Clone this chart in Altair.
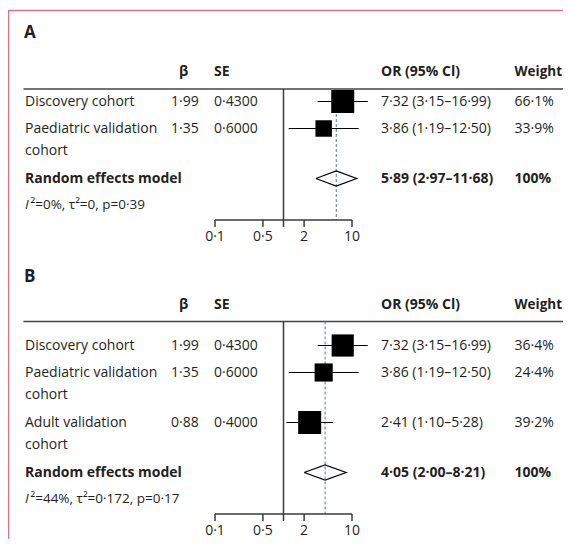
import altair as alt
import pandas as pd
import numpy as np

# ---------------- data ----------------
panel_names = ["A", "B"]

labels_A = [["Discovery cohort"], ["Paediatric validation", "cohort"]]
beta_A = [1.99, 1.35]
se_A = [0.4300, 0.6000]
or_A = [7.32, 3.86]
lo_A = [3.15, 1.19]
hi_A = [16.99, 12.50]
weight_A = [66.1, 33.9]
re_A = [5.89, 2.97, 11.68]
het_A = "²=0%, τ²=0, p=0·39"

labels_B = [["Discovery cohort"], ["Paediatric validation", "cohort"], ["Adult validation", "cohort"]]
beta_B = [1.99, 1.35, 0.88]
se_B = [0.4300, 0.6000, 0.4000]
or_B = [7.32, 3.86, 2.41]
lo_B = [3.15, 1.19, 1.10]
hi_B = [16.99, 12.50, 5.28]
weight_B = [36.4, 24.4, 39.2]
re_B = [4.05, 2.00, 8.21]
het_B = "²=44%, τ²=0·172, p=0·17"

tick_values = [0.1, 0.5, 2, 10]
tick_labels = ["0·1", "0·5", "2", "10"]
headers = ["β", "SE", "OR (95% Cl)", "Weight"]

# ---------------- layout ----------------
W, H = 555, 531
X_ONE = 275.5          # chart-x of OR = 1
PX_DEC = 68.5          # pixels per decade
xdom = [10 ** (-X_ONE / PX_DEC), 10 ** ((W - X_ONE) / PX_DEC)]
xscale = alt.Scale(type="log", domain=xdom, range=[0, W], nice=False, clamp=False)
yscale = alt.Scale(domain=[0, H], range=[0, H], nice=False, zero=False)

layout = {
    "A": dict(title=24.5, header=64, rule=81, first=93.5),
    "B": dict(title=268.5, header=297, rule=313.5, first=337.5),
}
COLX = dict(label=17, beta=163, se=206, orv=373, wt=506.5)
HEADX = [171, 206, 373, 506.5]
LINE = 23
ROWGAP = 4
FONT = "Open Sans"
TXT = "#231f20"


def dot(s):
    return s.replace(".", "·")


text_rows, study_rows, re_rows, het_rows, panel_rows, diamond_rows, tick_rows = [], [], [], [], [], [], []
for p, labels, beta, se, orv, lo, hi, wt, re, het in [
    ("A", labels_A, beta_A, se_A, or_A, lo_A, hi_A, weight_A, re_A, het_A),
    ("B", labels_B, beta_B, se_B, or_B, lo_B, hi_B, weight_B, re_B, het_B),
]:
    L = layout[p]
    y = L["first"]
    for i, lines in enumerate(labels):
        for k, ln in enumerate(lines):
            text_rows.append(dict(panel=p, y=y + k * (LINE - 1), label=ln))
        study_rows.append(dict(panel=p, y=y, beta=dot(f"{beta[i]:.2f}"), se=dot(f"{se[i]:.4f}"),
                               orv=orv[i], lo=lo[i], hi=hi[i], wrel=wt[i] / max(wt),
                               ortxt=dot(f"{orv[i]:.2f} ({lo[i]:.2f}–{hi[i]:.2f})"),
                               wtxt=dot(f"{wt[i]:.1f}%")))
        y = y + len(lines) * LINE + ROWGAP
    re_y = y
    het_y = re_y + 26.5
    axis_y = het_y + 15
    re_rows.append(dict(panel=p, y=re_y, est=re[0], lo=re[1], hi=re[2],
                        ortxt=dot(f"{re[0]:.2f} ({re[1]:.2f}–{re[2]:.2f})"), wtxt="100%"))
    het_rows.append(dict(panel=p, y=het_y, het=het))
    panel_rows.append(dict(panel=p, title_y=L["title"], header_y=L["header"], rule_y=L["rule"],
                           axis_y=axis_y, tick_end=axis_y + 7,
                           est=re[0], amin=min(tick_values), amax=max(tick_values), one=1.0))
    hh = 7.5
    for k, (xv, yv) in enumerate([(re[1], re_y), (re[0], re_y - hh), (re[2], re_y), (re[0], re_y + hh), (re[1], re_y)]):
        diamond_rows.append(dict(panel=p, x=xv, y=yv, k=k))
    for tv, tl in zip(tick_values, tick_labels):
        tick_rows.append(dict(panel=p, t=tv, tl=tl, y=axis_y, y2=axis_y + 7, ly=axis_y + 17))

texts = pd.DataFrame(text_rows)
studies = pd.DataFrame(study_rows)
res = pd.DataFrame(re_rows)
hets = pd.DataFrame(het_rows)
pans = pd.DataFrame(panel_rows)
diam = pd.DataFrame(diamond_rows)
ticks = pd.DataFrame(tick_rows)

Y = lambda f: alt.Y(f"{f}:Q", scale=yscale, axis=None)
X = lambda f: alt.X(f"{f}:Q", scale=xscale, axis=None)


def txt(df, field, x, yfield="y", bold=False, size=14, align="left", italic=False):
    return alt.Chart(df).mark_text(
        font=FONT, fontSize=size, fontWeight="bold" if bold else "normal",
        fontStyle="italic" if italic else "normal", align=align, baseline="middle", color=TXT
    ).encode(x=alt.value(x), y=Y(yfield), text=f"{field}:N")


layers = []
# frame
frame = pd.DataFrame([dict(a=0)])
layers.append(alt.Chart(frame).mark_rule(color="#d9748c", strokeWidth=1.6).encode(
    x=alt.value(0), x2=alt.value(W), y=alt.value(2.5)))
layers.append(alt.Chart(frame).mark_rule(color="#d9748c", strokeWidth=1.6).encode(
    x=alt.value(0.5), y=alt.value(2), y2=alt.value(H)))

# panel titles & headers
layers.append(alt.Chart(pans).mark_text(font=FONT, fontSize=17, fontWeight="bold", align="left",
                                        baseline="middle", color=TXT).encode(
    x=alt.value(16), y=Y("title_y"), text="panel:N"))
for htxt, hx in zip(headers, HEADX):
    layers.append(alt.Chart(pans).mark_text(font=FONT, fontSize=13.5 if htxt == "Weight" else 14,
                                            fontWeight="bold", align="left",
                                            baseline="middle", color=TXT).encode(
        x=alt.value(hx), y=Y("header_y"), text=alt.value(htxt)))
# header underline
layers.append(alt.Chart(pans).mark_rule(color="#444444", strokeWidth=1.3).encode(
    x=alt.value(15.5), x2=alt.value(W), y=Y("rule_y")))

# table text
layers.append(txt(texts, "label", COLX["label"]))
layers.append(txt(studies, "beta", COLX["beta"]))
layers.append(txt(studies, "se", COLX["se"]))
layers.append(txt(studies, "ortxt", COLX["orv"]))
layers.append(txt(studies, "wtxt", COLX["wt"]))
res_lab = res.assign(label="Random effects model")
layers.append(txt(res_lab, "label", COLX["label"], bold=True))
layers.append(txt(res, "ortxt", COLX["orv"], bold=True))
layers.append(txt(res, "wtxt", COLX["wt"], bold=True))
layers.append(txt(hets, "het", 22.5, size=13.5))
layers.append(txt(hets.assign(I="I"), "I", 17, size=13.5, italic=True))

# reference line at OR = 1 and dashed summary line
layers.append(alt.Chart(pans).mark_rule(color="#3a3a3a", strokeWidth=1.5).encode(
    x=X("one"), y=Y("rule_y"), y2="tick_end:Q"))
layers.append(alt.Chart(pans).mark_rule(color="#5f7e8e", strokeWidth=1, strokeDash=[3, 2]).encode(
    x=X("est"), y=Y("rule_y"), y2="axis_y:Q"))

# axis
layers.append(alt.Chart(pans).mark_rule(color="#3a3a3a", strokeWidth=1.5).encode(
    x=X("amin"), x2="amax:Q", y=Y("axis_y")))
layers.append(alt.Chart(ticks).mark_rule(color="#3a3a3a", strokeWidth=1.5).encode(
    x=X("t"), y=Y("y"), y2="y2:Q"))
layers.append(alt.Chart(ticks).mark_text(font=FONT, fontSize=14, align="center", baseline="middle",
                                         color=TXT).encode(x=X("t"), y=Y("ly"), text="tl:N"))

# CIs and squares
layers.append(alt.Chart(studies).mark_rule(color="black", strokeWidth=1.2).encode(
    x=X("lo"), x2="hi:Q", y=Y("y")))
layers.append(alt.Chart(studies).mark_square(color="black", filled=True, opacity=1).encode(
    x=X("orv"), y=Y("y"),
    size=alt.Size("wrel:Q", scale=alt.Scale(type="linear", domain=[0, 1], range=[0, 529], zero=True),
                  legend=None)))

# diamonds
layers.append(alt.Chart(diam).mark_line(color="black", strokeWidth=1.2).encode(
    x=X("x"), y=Y("y"), order="k:Q", detail="panel:N"))

chart = alt.layer(*layers).properties(
    width=W, height=H, padding=0, autosize=alt.AutoSizeParams(type="none")
).configure_view(stroke=None)

chart.save("out.html", embed_options={"renderer": "svg", "actions": False})
